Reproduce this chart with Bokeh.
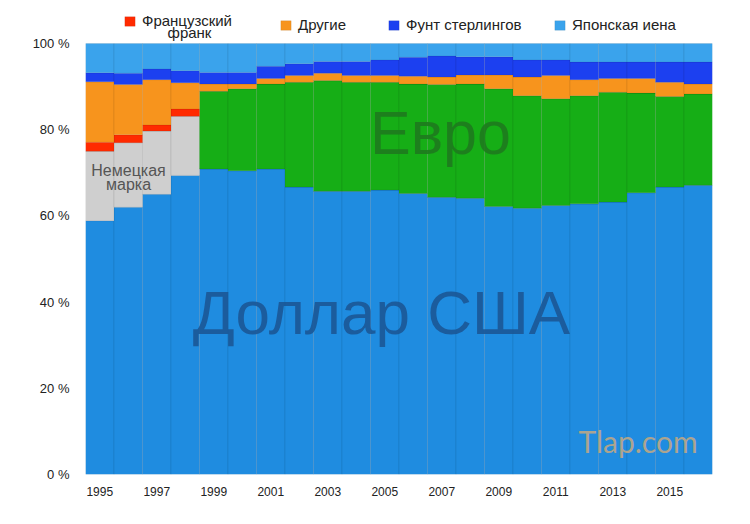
from bokeh.plotting import figure
from bokeh.models import Legend, LegendItem, Label, Range1d, FixedTicker, ColumnDataSource
from bokeh.embed import file_html
from bokeh.resources import INLINE

# ---- data (share of world FX reserves, %) ----
years = [1995, 1996, 1997, 1998, 1999, 2000, 2001, 2002, 2003, 2004, 2005,
         2006, 2007, 2008, 2009, 2010, 2011, 2012, 2013, 2014, 2015, 2016]
usd = [58.9, 62.0, 65.0, 69.4, 70.9, 70.5, 70.9, 66.7, 65.7, 65.7, 66.0,
       65.2, 64.3, 64.1, 62.2, 61.8, 62.4, 62.8, 63.2, 65.4, 66.7, 67.1]
dem = [16.1, 15.0, 14.7, 13.7, 0, 0, 0, 0, 0, 0, 0,
       0, 0, 0, 0, 0, 0, 0, 0, 0, 0, 0]
eur = [0, 0, 0, 0, 18.0, 19.0, 19.7, 24.3, 25.7, 25.3, 25.0,
       25.4, 26.2, 26.5, 27.3, 26.1, 24.8, 25.1, 25.5, 23.1, 21.0, 21.2]
frf = [2.1, 1.8, 1.4, 1.7, 0, 0, 0, 0, 0, 0, 0,
       0, 0, 0, 0, 0, 0, 0, 0, 0, 0, 0]
oth = [14.0, 11.7, 10.5, 6.1, 1.7, 1.1, 1.3, 1.6, 1.7, 1.6, 1.6,
       1.8, 1.7, 2.1, 3.2, 4.3, 5.4, 3.7, 3.2, 3.4, 3.3, 2.3]
gbp = [2.1, 2.6, 2.5, 2.8, 2.7, 2.7, 2.8, 2.7, 2.7, 3.2, 3.6,
       4.4, 4.9, 4.2, 4.2, 4.0, 3.6, 4.1, 3.8, 3.8, 4.7, 5.1]
jpy = [6.8, 6.9, 5.9, 6.3, 6.7, 6.7, 5.3, 4.7, 4.2, 4.2, 3.8,
       3.2, 2.9, 3.1, 3.1, 3.8, 3.8, 4.3, 4.3, 4.3, 4.3, 4.3]

x_ticks = [1995, 1997, 1999, 2001, 2003, 2005, 2007, 2009, 2011, 2013, 2015]
y_ticks = [0, 20, 40, 60, 80, 100]
y_tick_labels = ["0 %", "20 %", "40 %", "60 %", "80 %", "100 %"]

stack_keys = ["usd", "dem", "eur", "frf", "oth", "gbp", "jpy"]
colors = ["#1f8ce0", "#cfcfcf", "#16ae16", "#ff2a00", "#f7941d", "#1c40f0", "#3aa3ec"]

source = ColumnDataSource(dict(x=years, usd=usd, dem=dem, eur=eur, frf=frf,
                               oth=oth, gbp=gbp, jpy=jpy))

# frame spans the full height above the x axis so the legends (drawn in the
# frame) are not clipped; 100 % sits 43 px below the top of the page
top_pad = 43
plot_h = 431
p = figure(width=750, height=524, output_backend="svg", toolbar_location=None,
           x_range=Range1d(1994.5, 2016.5),
           y_range=Range1d(0, 100 * (plot_h + top_pad) / plot_h),
           min_border_left=85, min_border_right=38, min_border_top=0,
           min_border_bottom=50)
p.outline_line_color = None
p.xgrid.visible = False
p.ygrid.visible = False
p.background_fill_color = "white"

rs = p.vbar_stack(stack_keys, x="x", width=1.0, color=colors, source=source,
                  line_color="black", line_alpha=0.07, line_width=1)
r_map = dict(zip(stack_keys, rs))

# axes
for ax in (p.xaxis, p.yaxis):
    ax.axis_line_color = None
    ax.major_tick_line_color = None
    ax.minor_tick_line_color = None
    ax.major_label_text_font = "Liberation Sans"
    ax.major_label_text_color = "#222222"
p.xaxis.ticker = FixedTicker(ticks=x_ticks)
p.xaxis.major_label_text_font_size = "12px"
p.xaxis.major_label_standoff = 6
p.yaxis.ticker = FixedTicker(ticks=y_ticks)
p.yaxis.major_label_overrides = {t: s for t, s in zip(y_ticks, y_tick_labels)}
p.yaxis.major_label_text_font_size = "13px"
p.yaxis.major_label_standoff = 10

# legends (one per item to reproduce irregular spacing)
leg_specs = [("frf", "Французский", 38, 445), ("oth", "Другие", 194, 441),
             ("gbp", "Фунт стерлингов", 302, 441), ("jpy", "Японская иена", 468, 441)]
for key, lab, lx, ly in leg_specs:
    leg = Legend(items=[LegendItem(label=lab, renderers=[r_map[key]])],
                 location=(lx, ly), orientation="horizontal",
                 padding=0, margin=0, spacing=0, border_line_color=None,
                 background_fill_alpha=0, glyph_width=13, glyph_height=12,
                 label_standoff=6, label_text_font="Liberation Sans",
                 label_text_font_size="15px", label_height=12,
                 label_text_color="#222222")
    p.add_layout(leg)
# second line of the French franc legend label
p.add_layout(Label(x=104, y=442, x_units="screen", y_units="screen", text="франк",
                   text_font="Liberation Sans", text_font_size="15px",
                   text_color="#222222", text_align="center", text_baseline="alphabetic"))

# big in-chart labels
p.add_layout(Label(x=296, y=162, x_units="screen", y_units="screen", text="Доллар США",
                   text_font="Liberation Sans", text_font_size="62px",
                   text_color="#1b5796", text_alpha=0.9, text_align="center",
                   text_baseline="alphabetic"))
p.add_layout(Label(x=355, y=342, x_units="screen", y_units="screen", text="Евро",
                   text_font="Liberation Sans", text_font_size="61px",
                   text_color="#1e7a1e", text_alpha=0.9, text_align="center",
                   text_baseline="alphabetic"))
p.add_layout(Label(x=43, y=304, x_units="screen", y_units="screen", text="Немецкая",
                   text_font="Liberation Sans", text_font_size="16px",
                   text_color="#555555", text_align="center", text_baseline="alphabetic"))
p.add_layout(Label(x=43, y=290, x_units="screen", y_units="screen", text="марка",
                   text_font="Liberation Sans", text_font_size="16px",
                   text_color="#555555", text_align="center", text_baseline="alphabetic"))
p.add_layout(Label(x=493, y=34, x_units="screen", y_units="screen", text="Tlap.com",
                   text_font="Lato", text_font_size="30px",
                   text_color="#aca48f", text_align="left", text_baseline="alphabetic"))

open("out.html", "w").write(file_html(p, INLINE))
